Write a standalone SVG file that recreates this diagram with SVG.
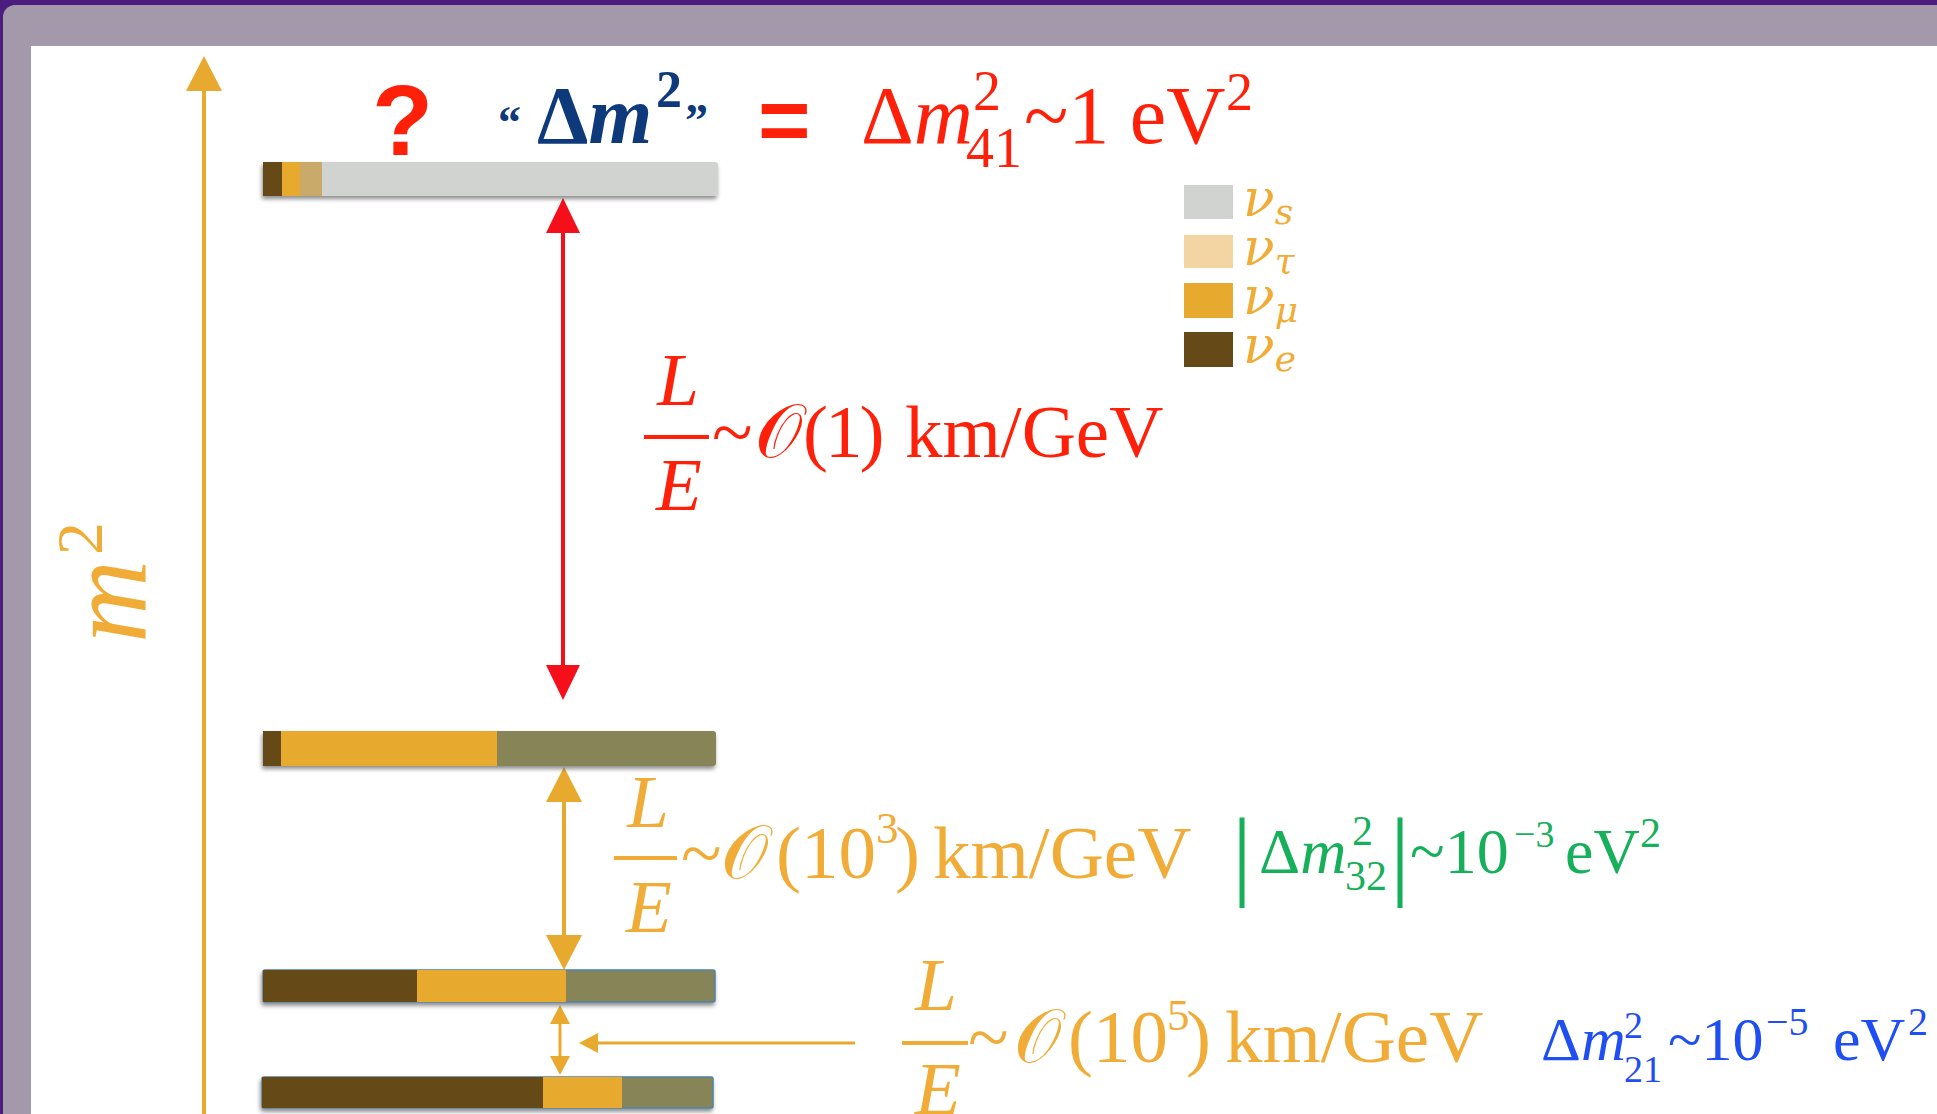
<svg xmlns="http://www.w3.org/2000/svg" width="1937" height="1114" viewBox="0 0 1937 1114">
<defs>
<style>
.serif{font-family:"Liberation Serif","Times New Roman",serif}
.sans{font-family:"Liberation Sans",Arial,sans-serif}
.math{font-family:"DejaVu Serif","DejaVu Sans","Liberation Serif",serif}
.it{font-style:italic}
.up{font-style:normal}
.red{fill:#FF200A}
.gold{fill:#F0AC36}
.green{fill:#16B05A}
.blue{fill:#1F4FF2}
.navy{fill:#0E3A7C}
.dk{fill:#654A18}
.au{fill:#E8AA2E}
.tan{fill:#C9AA6B}
.gr{fill:#D1D3D0}
.ol{fill:#878559}
.pale{fill:#F3D5A3}
.bar{filter:url(#sh)}
.nu{font-family:"DejaVu Serif","Liberation Serif",serif;font-style:italic;font-size:52px}
</style>
<filter id="sh" x="-5%" y="-40%" width="110%" height="200%">
<feDropShadow dx="-1" dy="3" stdDeviation="2" flood-color="#000" flood-opacity="0.45"/>
</filter>
<marker id="redHead" markerUnits="userSpaceOnUse" markerWidth="36" markerHeight="34" refX="0" refY="17" orient="auto-start-reverse">
<path d="M0,0 L35,17 L0,34 Z" fill="#F50F1A"/>
</marker>
<marker id="goldHead" markerUnits="userSpaceOnUse" markerWidth="36" markerHeight="36" refX="0" refY="18" orient="auto-start-reverse">
<path d="M0,0 L35,18 L0,36 Z" fill="#E8AA2E"/>
</marker>
<marker id="goldSmall" markerUnits="userSpaceOnUse" markerWidth="20" markerHeight="20" refX="0" refY="10" orient="auto-start-reverse">
<path d="M0,0 L19,10 L0,20 Z" fill="#E8AA2E"/>
</marker>
</defs>

<!-- slide frame -->
<rect width="1937" height="1114" fill="#4A1D7E"/>
<rect x="3" y="5" width="1960" height="1130" rx="12" fill="#A399AB"/>
<rect x="31" y="46" width="1906" height="1068" fill="#FFFFFF"/>

<!-- connectors -->
<g id="connectors" fill="none">
<line id="axis" x1="204" y1="1120" x2="204" y2="91" stroke="#E8AA2E" stroke-width="4" marker-end="url(#goldHead)"/>
<line id="arrow-41" x1="563" y1="233" x2="563" y2="665" stroke="#F50F1A" stroke-width="4" marker-start="url(#redHead)" marker-end="url(#redHead)"/>
<line id="arrow-32" x1="564" y1="802" x2="564" y2="935" stroke="#E8AA2E" stroke-width="4" marker-start="url(#goldHead)" marker-end="url(#goldHead)"/>
<line id="arrow-21" x1="560" y1="1024" x2="560" y2="1056" stroke="#E8AA2E" stroke-width="3" marker-start="url(#goldSmall)" marker-end="url(#goldSmall)"/>
<line id="pointer-21" x1="855" y1="1043" x2="598" y2="1043" stroke="#E8AA2E" stroke-width="3" marker-end="url(#goldSmall)"/>
</g>

<!-- axis label -->
<g id="axis-label">
<text class="serif it gold" font-size="115" transform="translate(145,643) rotate(-90)">m<tspan class="up" x="88" y="-43" font-size="66">2</tspan></text>
</g>

<!-- mass levels -->
<g id="level-4" class="bar">
<rect x="263" y="162" width="455" height="34" rx="3" class="gr"/>
<rect x="263" y="162" width="19" height="34" class="dk"/>
<rect x="282" y="162" width="18" height="34" class="au"/>
<rect x="300" y="162" width="22" height="34" class="tan"/>
</g>
<g id="level-3" class="bar">
<rect x="263" y="731" width="453" height="35" rx="3" class="ol"/>
<rect x="263" y="731" width="18" height="35" class="dk"/>
<rect x="281" y="731" width="216" height="35" class="au"/>
</g>
<g id="level-2" class="bar">
<rect x="263" y="970" width="452" height="32" rx="2" class="ol" stroke="#4F83A6" stroke-width="1.5"/>
<rect x="263" y="970" width="154" height="32" class="dk"/>
<rect x="417" y="970" width="149" height="32" class="au"/>
</g>
<g id="level-1" class="bar">
<rect x="262" y="1077" width="451" height="31" rx="2" class="ol" stroke="#4F83A6" stroke-width="1.5"/>
<rect x="262" y="1077" width="281" height="31" class="dk"/>
<rect x="543" y="1077" width="79" height="31" class="au"/>
</g>

<!-- title -->
<g id="title">
<text class="sans red" font-weight="bold" font-size="100" x="372" y="155">?</text>
<text class="serif navy" font-weight="bold" y="138"><tspan x="498" font-size="46">“</tspan><tspan x="537" y="143" font-size="82">Δ</tspan><tspan class="it" font-size="82">m</tspan><tspan x="656" y="107" font-size="52">2</tspan><tspan x="685" y="136" font-size="46">”</tspan></text>
<text class="sans red" font-weight="bold" font-size="90" x="758" y="151">=</text>
<text class="serif red" font-size="82" y="143"><tspan x="861">Δ</tspan><tspan class="it">m</tspan><tspan x="973" y="110" font-size="56">2</tspan><tspan x="966" y="167" font-size="56">41</tspan><tspan x="1024" y="143">~1 eV</tspan><tspan x="1226" y="110" font-size="54">2</tspan></text>
</g>

<!-- legend -->
<g id="legend">
<rect x="1184" y="185" width="49" height="34" class="gr"/>
<rect x="1184" y="235" width="49" height="33" class="pale"/>
<rect x="1184" y="283" width="49" height="35" class="au"/>
<rect x="1184" y="332" width="49" height="35" class="dk"/>
<text class="nu gold" x="1243" y="216">ν<tspan font-size="36" dy="8">s</tspan></text>
<text class="nu gold" x="1243" y="265">ν<tspan font-size="36" dy="8">τ</tspan></text>
<text class="nu gold" x="1243" y="314">ν<tspan font-size="36" dy="8">μ</tspan></text>
<text class="nu gold" x="1243" y="363">ν<tspan font-size="36" dy="8">e</tspan></text>
</g>

<!-- L/E for 41 -->
<g id="label-41">
<text class="serif it red" font-size="75" text-anchor="middle" x="678" y="405">L</text>
<rect x="644" y="435" width="65" height="4" class="red"/>
<text class="serif it red" font-size="75" text-anchor="middle" x="679" y="510">E</text>
<text class="serif red" font-size="75" y="457"><tspan x="712">~</tspan><tspan class="math" x="755">𝒪</tspan><tspan x="803" letter-spacing="-3">(1)</tspan><tspan x="905">km/GeV</tspan></text>
</g>

<!-- L/E for 32 -->
<g id="label-32">
<text class="serif it gold" font-size="75" text-anchor="middle" x="648" y="827">L</text>
<rect x="614" y="856" width="63" height="4" class="gold"/>
<text class="serif it gold" font-size="75" text-anchor="middle" x="649" y="932">E</text>
<text class="serif gold" font-size="75" y="878"><tspan x="681">~</tspan><tspan class="math" x="721">𝒪</tspan><tspan x="776">(10</tspan><tspan x="876" y="843" font-size="45">3</tspan><tspan x="895" y="878">)</tspan><tspan x="933">km/GeV</tspan></text>
<text class="serif green" font-size="64" y="873"><tspan x="1232" y="887" font-size="100">|</tspan><tspan x="1259" y="873">Δ</tspan><tspan class="it">m</tspan><tspan x="1352" y="845" font-size="42">2</tspan><tspan x="1345" y="890" font-size="42">32</tspan><tspan x="1390" y="887" font-size="100">|</tspan><tspan x="1410" y="873">~10</tspan><tspan x="1514" y="847" font-size="38">−3</tspan><tspan x="1565" y="873">eV</tspan><tspan x="1640" y="847" font-size="42">2</tspan></text>
</g>

<!-- L/E for 21 -->
<g id="label-21">
<text class="serif it gold" font-size="75" text-anchor="middle" x="936" y="1010">L</text>
<rect x="902" y="1041" width="66" height="4" class="gold"/>
<text class="serif it gold" font-size="75" text-anchor="middle" x="938" y="1114">E</text>
<text class="serif gold" font-size="75" y="1062"><tspan x="968">~</tspan><tspan class="math" x="1014">𝒪</tspan><tspan x="1068">(10</tspan><tspan x="1167" y="1030" font-size="45">5</tspan><tspan x="1186" y="1062">)</tspan><tspan x="1225">km/GeV</tspan></text>
<text class="serif blue" font-size="62" y="1060"><tspan x="1541">Δ</tspan><tspan class="it">m</tspan><tspan x="1624" y="1038" font-size="38">2</tspan><tspan x="1624" y="1082" font-size="38">21</tspan><tspan x="1668" y="1060">~10</tspan><tspan x="1766" y="1035" font-size="40">−5</tspan><tspan x="1833" y="1060">eV</tspan><tspan x="1908" y="1035" font-size="40">2</tspan></text>
</g>
</svg>
